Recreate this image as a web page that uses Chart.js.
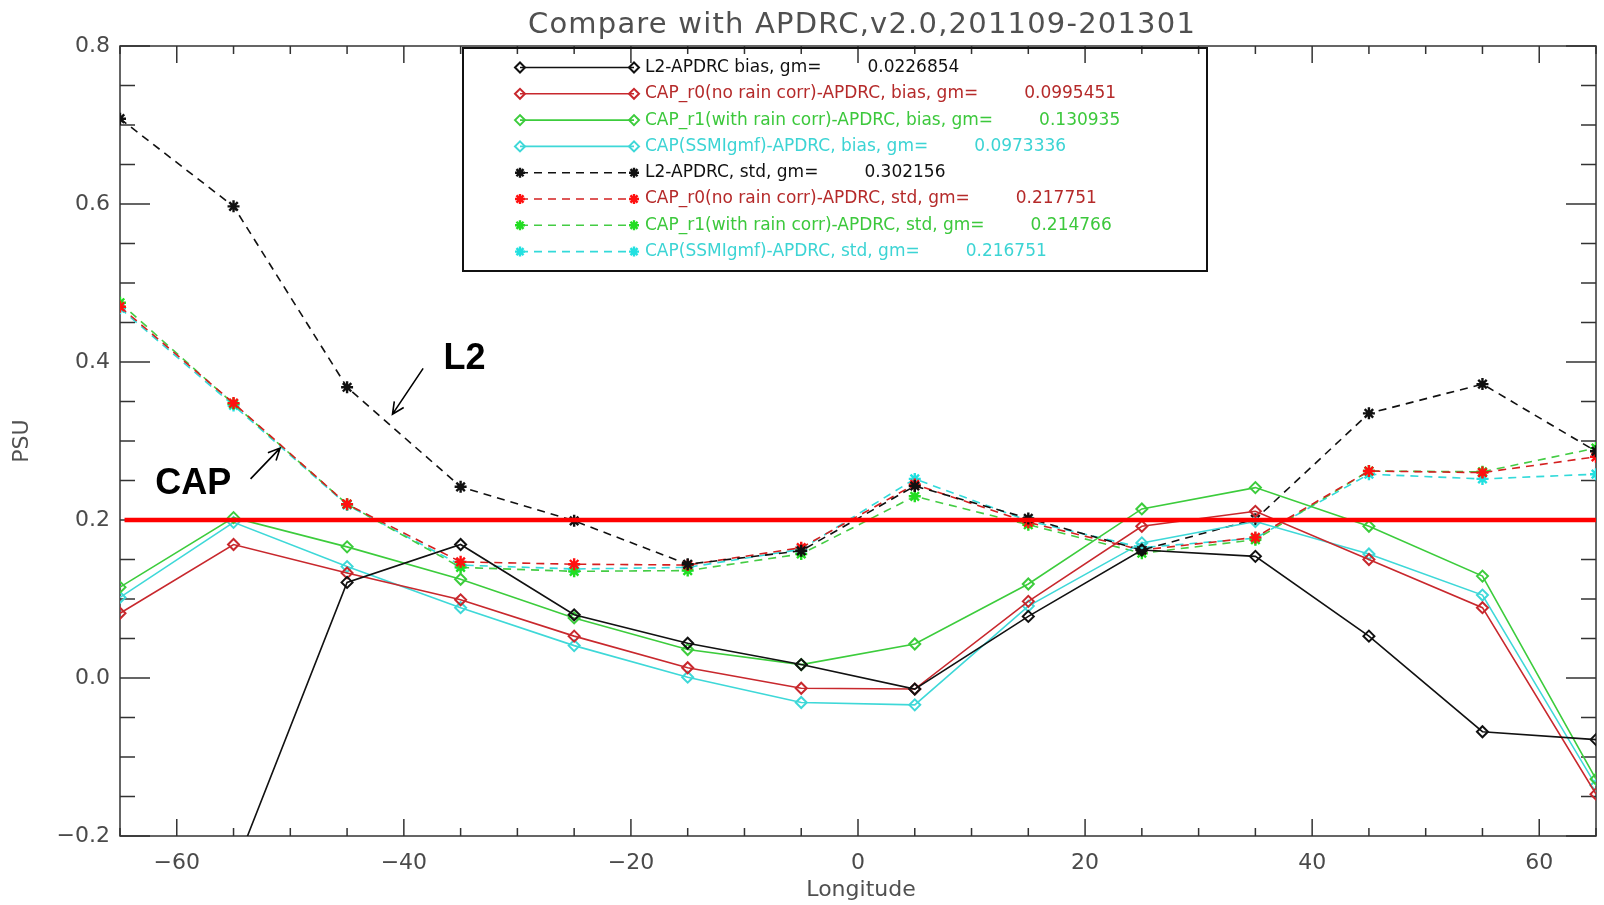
<!DOCTYPE html>
<html>
<head>
<meta charset="utf-8">
<script src="https://cdn.jsdelivr.net/npm/chart.js@4.4.1/dist/chart.umd.min.js"></script>
<style>
html, body { margin: 0; padding: 0; background: #fff; overflow: hidden; }
#wrap { position: relative; width: 1610px; height: 905px; }
</style>
</head>
<body>
<div id="wrap"><canvas id="grafico"></canvas></div>
<script>
// longitudes das bandas
const longitudes = [-65, -55, -45, -35, -25, -15, -5, 5, 15, 25, 35, 45, 55, 65];

// bias (linhas cheias, losangos)
const l2Bias   = [-0.40, -0.245, 0.121, 0.169, 0.080, 0.044, 0.017, -0.014, 0.078, 0.162, 0.154, 0.053, -0.068, -0.078];
const r0Bias   = [0.082, 0.169, 0.133, 0.099, 0.053, 0.013, -0.013, -0.014, 0.097, 0.192, 0.211, 0.150, 0.089, -0.147];
const r1Bias   = [0.115, 0.203, 0.166, 0.125, 0.076, 0.036, 0.017, 0.043, 0.119, 0.214, 0.241, 0.192, 0.129, -0.128];
const ssmiBias = [0.102, 0.197, 0.141, 0.089, 0.041, 0.001, -0.031, -0.034, 0.091, 0.171, 0.198, 0.157, 0.105, -0.136];

// std (tracejadas, asteriscos)
const l2Std    = [0.708, 0.597, 0.368, 0.242, 0.199, 0.144, 0.161, 0.243, 0.202, 0.162, 0.201, 0.335, 0.372, 0.287];
const r0Std    = [0.470, 0.348, 0.220, 0.147, 0.144, 0.143, 0.165, 0.245, 0.197, 0.162, 0.178, 0.262, 0.260, 0.280];
const r1Std    = [0.475, 0.347, 0.220, 0.140, 0.135, 0.136, 0.157, 0.230, 0.194, 0.158, 0.175, 0.262, 0.261, 0.291];
const ssmiStd  = [0.468, 0.345, 0.219, 0.143, 0.138, 0.140, 0.163, 0.252, 0.199, 0.165, 0.177, 0.258, 0.252, 0.258];

// linha de referência em 0.2
const refLon = [-64.6, 65];
const refValor = 0.2;

// legenda
const nomesLegenda = [
    'L2-APDRC bias, gm=',
    'CAP_r0(no rain corr)-APDRC, bias, gm=',
    'CAP_r1(with rain corr)-APDRC, bias, gm=',
    'CAP(SSMIgmf)-APDRC, bias, gm=',
    'L2-APDRC, std, gm=',
    'CAP_r0(no rain corr)-APDRC, std, gm=',
    'CAP_r1(with rain corr)-APDRC, std, gm=',
    'CAP(SSMIgmf)-APDRC, std, gm='
];
const gmLegenda = ['0.0226854', '0.0995451', '0.130935', '0.0973336', '0.302156', '0.217751', '0.214766', '0.216751'];

const titulo = 'Compare with APDRC,v2.0,201109-201301';
const tituloX = 'Longitude';
const tituloY = 'PSU';

// anotações (posição em coordenadas de dados)
const notas = [
    { texto: 'L2',  x: -36.5, y: 0.391, de: [-38.3, 0.392], ate: [-41.0, 0.334] },
    { texto: 'CAP', x: -61.9, y: 0.233, de: [-53.5, 0.252], ate: [-50.9, 0.291] }
];

const pontos = arr => longitudes.map((lon, i) => ({ x: lon, y: arr[i] }));

const corTexto = ['#111111', '#b52a2a', '#3cc83c', '#3cd4d4', '#111111', '#b52a2a', '#3cc83c', '#3cd4d4'];

function serieBias(dados, cor) {
    return {
        data: pontos(dados), borderColor: cor, borderWidth: 1.6,
        pointStyle: 'rectRot', pointRadius: 5.5, pointBorderWidth: 2,
        pointBorderColor: cor, pointBackgroundColor: 'rgba(0,0,0,0)', tension: 0
    };
}
function serieStd(dados, cor, corPonto) {
    return {
        data: pontos(dados), borderColor: cor, borderWidth: 1.6, borderDash: [8, 6],
        pointStyle: 'star', pointRadius: 6, pointBorderWidth: 2.4,
        pointBorderColor: corPonto, pointBackgroundColor: corPonto, tension: 0
    };
}

const datasets = [
    serieBias(l2Bias, '#111111'),
    serieBias(r0Bias, '#c8282d'),
    serieBias(r1Bias, '#3ccc3c'),
    serieBias(ssmiBias, '#3ed8d8'),
    serieStd(l2Std, '#111111', '#111111'),
    serieStd(r0Std, '#d42020', '#ff1010'),
    serieStd(r1Std, '#44cc44', '#22dd22'),
    serieStd(ssmiStd, '#33dada', '#22e0e0'),
    {
        data: refLon.map(l => ({ x: l, y: refValor })),
        borderColor: '#ff0000', borderWidth: 4.5, pointRadius: 0, order: -1
    }
];

// moldura com ticks para dentro (estilo IDL)
const moldura = {
    id: 'moldura',
    beforeDatasetsDraw(chart) {
        const { ctx, chartArea: a, scales: { x, y } } = chart;
        ctx.save();
        ctx.strokeStyle = '#333';
        ctx.lineWidth = 1.5;
        ctx.strokeRect(a.left, a.top, a.right - a.left, a.bottom - a.top);
        ctx.beginPath();
        x.ticks.forEach(t => {
            const px = x.getPixelForValue(t.value);
            const len = t.value % 20 === 0 ? 17 : 8;
            ctx.moveTo(px, a.bottom); ctx.lineTo(px, a.bottom - len);
            ctx.moveTo(px, a.top); ctx.lineTo(px, a.top + len);
        });
        y.ticks.forEach(t => {
            const py = y.getPixelForValue(t.value);
            const len = Math.round(t.value * 100) % 20 === 0 ? 30 : 15;
            ctx.moveTo(a.left, py); ctx.lineTo(a.left + len, py);
            ctx.moveTo(a.right, py); ctx.lineTo(a.right - len, py);
        });
        ctx.stroke();
        ctx.restore();
    }
};

// títulos, legenda e anotações
const textos = {
    id: 'textos',
    afterDatasetsDraw(chart) {
        const { ctx, chartArea: a, scales: { x, y } } = chart;
        const ds = chart.data.datasets;
        ctx.save();

        ctx.fillStyle = '#505050';
        ctx.textAlign = 'center';
        ctx.textBaseline = 'alphabetic';
        ctx.font = '29px "DejaVu Sans"';
        ctx.letterSpacing = '1.2px';
        ctx.fillText(titulo, 862, 33);
        ctx.letterSpacing = '0px';
        ctx.textBaseline = 'middle';
        ctx.font = '22px "DejaVu Sans"';
        ctx.fillText(tituloX, 861, 890);
        ctx.save();
        ctx.translate(22, 441);
        ctx.rotate(-Math.PI / 2);
        ctx.fillText(tituloY, 0, 0);
        ctx.restore();

        // caixa da legenda
        const bx = 463, by = 48, bw = 744, bh = 223;
        ctx.strokeStyle = '#111';
        ctx.lineWidth = 2;
        ctx.strokeRect(bx, by, bw, bh);
        ctx.font = '17px "DejaVu Sans"';
        ctx.textAlign = 'left';
        nomesLegenda.forEach((nome, i) => {
            const d = ds[i];
            const yy = 67.5 + i * 26.3;
            const x0 = 520, x1 = 634;
            ctx.save();
            ctx.strokeStyle = d.borderColor;
            ctx.lineWidth = d.borderWidth;
            ctx.setLineDash(d.borderDash || []);
            ctx.beginPath(); ctx.moveTo(x0, yy); ctx.lineTo(x1, yy); ctx.stroke();
            ctx.restore();
            [x0, x1].forEach(px => {
                ctx.save();
                ctx.strokeStyle = d.pointBorderColor;
                ctx.fillStyle = d.pointBackgroundColor;
                ctx.lineWidth = d.pointBorderWidth;
                Chart.helpers.drawPoint(ctx, { pointStyle: d.pointStyle, radius: 5, rotation: 0, borderWidth: d.pointBorderWidth }, px, yy);
                ctx.restore();
            });
            ctx.fillStyle = corTexto[i];
            ctx.fillText(nome, 645, yy);
            const w = ctx.measureText(nome).width;
            ctx.fillText(gmLegenda[i], 645 + w + 46, yy);
        });

        // anotações L2 / CAP
        ctx.fillStyle = '#000';
        ctx.strokeStyle = '#000';
        ctx.lineWidth = 1.6;
        ctx.textBaseline = 'alphabetic';
        ctx.font = 'bold 36px "Liberation Sans"';
        notas.forEach(n => {
            ctx.fillText(n.texto, x.getPixelForValue(n.x), y.getPixelForValue(n.y));
            const ax = x.getPixelForValue(n.de[0]), ay = y.getPixelForValue(n.de[1]);
            const bx2 = x.getPixelForValue(n.ate[0]), by2 = y.getPixelForValue(n.ate[1]);
            const ang = Math.atan2(by2 - ay, bx2 - ax);
            ctx.beginPath();
            ctx.moveTo(ax, ay); ctx.lineTo(bx2, by2);
            ctx.moveTo(bx2 - 13 * Math.cos(ang - 0.45), by2 - 13 * Math.sin(ang - 0.45));
            ctx.lineTo(bx2, by2);
            ctx.lineTo(bx2 - 13 * Math.cos(ang + 0.45), by2 - 13 * Math.sin(ang + 0.45));
            ctx.stroke();
        });
        ctx.restore();
    }
};

const ctx = document.getElementById('grafico').getContext('2d');
window.graficoAPDRC = new Chart(ctx, {
    type: 'line',
    data: { datasets },
    plugins: [moldura, textos],
    options: {
        responsive: true,
        maintainAspectRatio: false,
        animation: false,
        layout: { padding: { top: 46, right: 2, left: 0, bottom: 0 } },
        plugins: { legend: { display: false }, tooltip: { enabled: false } },
        scales: {
            x: {
                type: 'linear', min: -65, max: 65,
                grid: { display: false, drawTicks: false },
                border: { display: false },
                afterFit: s => { s.height = 69; },
                ticks: {
                    stepSize: 5, autoSkip: false, maxRotation: 0, padding: 14,
                    color: '#4a4a4a', font: { family: 'DejaVu Sans', size: 22 },
                    callback: v => v % 20 === 0 ? String(v).replace('-', '\u2212') : ''
                }
            },
            y: {
                min: -0.2, max: 0.8,
                grid: { display: false, drawTicks: false },
                border: { display: false },
                afterFit: s => { s.width = 120; },
                ticks: {
                    stepSize: 0.05, autoSkip: false, padding: 10,
                    color: '#4a4a4a', font: { family: 'DejaVu Sans', size: 22 },
                    callback: v => {
                        const k = Math.round(v * 100);
                        return k % 20 === 0 ? (k / 100).toFixed(1).replace('-', '\u2212') : '';
                    }
                }
            }
        }
    }
});
</script>
</body>
</html>
